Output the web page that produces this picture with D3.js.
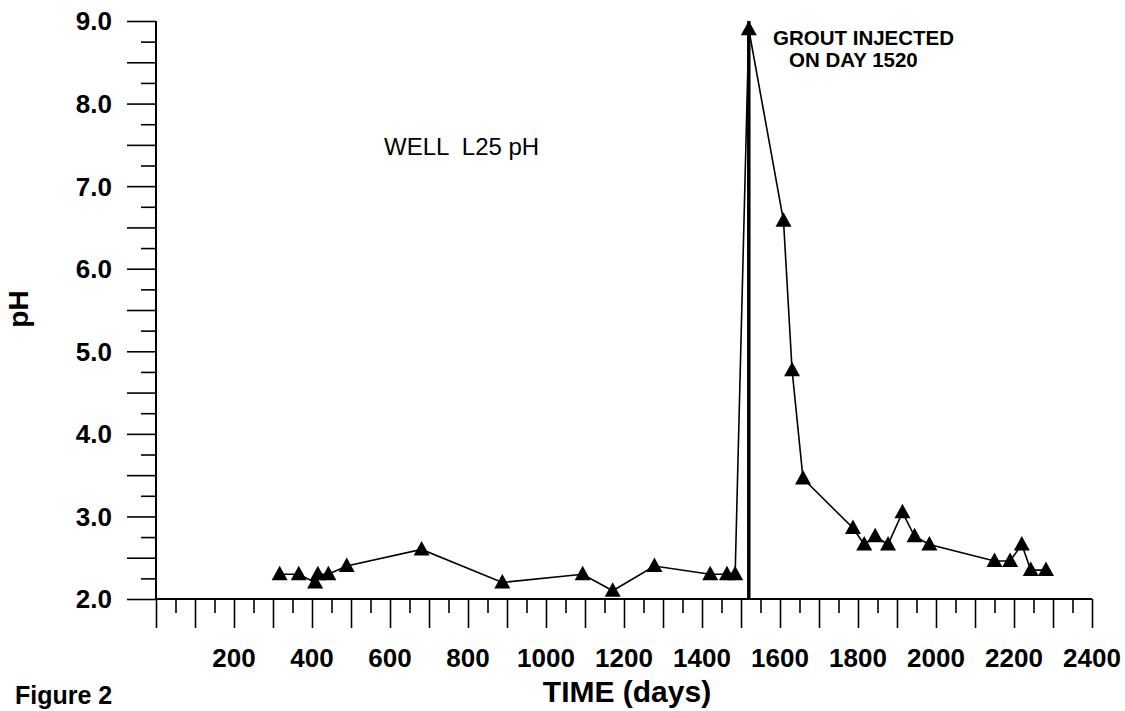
<!DOCTYPE html>
<html>
<head>
<meta charset="utf-8">
<script src="https://cdn.jsdelivr.net/npm/d3@7"></script>
<style>
  html, body { margin: 0; padding: 0; background: #fff; }
  svg { display: block; }
  text { font-family: "Liberation Sans", Arial, Helvetica, sans-serif; fill: #000; }
</style>
</head>
<body>
<svg id="chart" width="1125" height="711"></svg>
<script>
// ---- data ----
const days = [317, 366, 408, 415, 442, 489, 681, 888, 1094, 1171, 1278, 1421, 1464, 1485,
              1520, 1609, 1631, 1659, 1787, 1816, 1844, 1877, 1914, 1945, 1983, 2150, 2190, 2220, 2243, 2282];
const phValues = [2.3, 2.3, 2.2, 2.3, 2.3, 2.4, 2.6, 2.2, 2.3, 2.1, 2.4, 2.3, 2.3, 2.3,
                  8.9, 6.58, 4.77, 3.46, 2.86, 2.66, 2.76, 2.66, 3.05, 2.76, 2.66, 2.46, 2.46, 2.66, 2.35, 2.35];
const xTickLabels = [200, 400, 600, 800, 1000, 1200, 1400, 1600, 1800, 2000, 2200, 2400];
const yTickLabels = [2, 3, 4, 5, 6, 7, 8, 9];
const groutDay = 1520;
const chartTitle = "WELL  L25 pH";
const annotationLines = ["GROUT INJECTED", "ON DAY 1520"];
const xTitle = "TIME (days)";
const yTitle = "pH";
const figureLabel = "Figure 2";

// ---- layout ----
const svg = d3.select("#chart");
const x = d3.scaleLinear().domain([0, 2400]).range([156, 1092]);
const y = d3.scaleLinear().domain([2, 9]).range([599, 21]);

const g = svg.append("g");

// X axis: long ticks every 100, short every 50
const xMinor = d3.range(0, 2401, 50).filter(d => d % 100 !== 0);
const xMajor = d3.range(0, 2401, 100);
const xAxisG = g.append("g").attr("transform", `translate(0,${y(2)})`);
xAxisG.call(d3.axisBottom(x).tickValues(xMajor).tickSize(29).tickFormat(""));
xAxisG.append("g").call(d3.axisBottom(x).tickValues(xMinor).tickSize(14).tickFormat(""));
xAxisG.selectAll("path.domain").attr("d", `M${x(0)},0H${x(2400)}`).attr("stroke", "#000").attr("stroke-width", 2);
xAxisG.selectAll(".tick line").attr("stroke", "#000").attr("stroke-width", 1.6);

xAxisG.selectAll(".xlab").data(xTickLabels).enter().append("text")
  .attr("class", "xlab")
  .attr("x", d => x(d))
  .attr("y", 68)
  .attr("text-anchor", "middle")
  .style("font-size", "26px").style("font-weight", "bold")
  .text(d => d);

// Y axis: long ticks every 0.5, short every 0.25
const yMajor = d3.range(2, 9.001, 0.5);
const yMinor = d3.range(2.25, 9, 0.5);
const yAxisG = g.append("g").attr("transform", `translate(${x(0)},0)`);
yAxisG.call(d3.axisLeft(y).tickValues(yMajor).tickSize(29).tickFormat(""));
yAxisG.append("g").call(d3.axisLeft(y).tickValues(yMinor).tickSize(15).tickFormat(""));
yAxisG.selectAll("path.domain").attr("d", `M0,${y(9)}V${y(2)}`).attr("stroke", "#000").attr("stroke-width", 2);
yAxisG.selectAll(".tick line").attr("stroke", "#000").attr("stroke-width", 1.6);

yAxisG.selectAll(".ylab").data(yTickLabels).enter().append("text")
  .attr("class", "ylab")
  .attr("x", -44)
  .attr("y", d => y(d))
  .attr("dy", "0.36em")
  .attr("text-anchor", "end")
  .style("font-size", "26px").style("font-weight", "bold")
  .text(d => d3.format(".1f")(d));

// grout injection vertical line
g.append("line")
  .attr("x1", x(groutDay)).attr("x2", x(groutDay))
  .attr("y1", y(9)).attr("y2", y(2))
  .attr("stroke", "#000").attr("stroke-width", 3.5);

// data line
const pts = days.map((d, i) => [d, phValues[i]]);
g.append("path")
  .datum(pts)
  .attr("fill", "none")
  .attr("stroke", "#000")
  .attr("stroke-width", 1.6)
  .attr("d", d3.line().x(d => x(d[0])).y(d => y(d[1])));

// triangle markers
g.selectAll(".mk").data(pts).enter().append("path")
  .attr("class", "mk")
  .attr("transform", d => `translate(${x(d[0])},${y(d[1])})`)
  .attr("d", "M0,-8.5L8,6L-8,6Z")
  .attr("fill", "#000");

// texts
g.append("text").attr("x", 384).attr("y", 155)
  .style("white-space", "pre")
  .attr("xml:space", "preserve")
  .style("font-size", "24px").text(chartTitle);

g.append("text").attr("x", 773).attr("y", 45)
  .style("font-size", "20.5px").style("font-weight", "bold").text(annotationLines[0]);
g.append("text").attr("x", 789).attr("y", 67)
  .style("font-size", "20.5px").style("font-weight", "bold").text(annotationLines[1]);

g.append("text").attr("x", 627).attr("y", 702)
  .attr("text-anchor", "middle")
  .style("font-size", "30px").style("font-weight", "bold").text(xTitle);

g.append("text")
  .attr("transform", "translate(28,309) rotate(-90)")
  .attr("text-anchor", "middle")
  .style("font-size", "28px").style("font-weight", "bold").text(yTitle);

g.append("text").attr("x", 15).attr("y", 704)
  .style("font-size", "25px").style("font-weight", "bold").text(figureLabel);
</script>
</body>
</html>
